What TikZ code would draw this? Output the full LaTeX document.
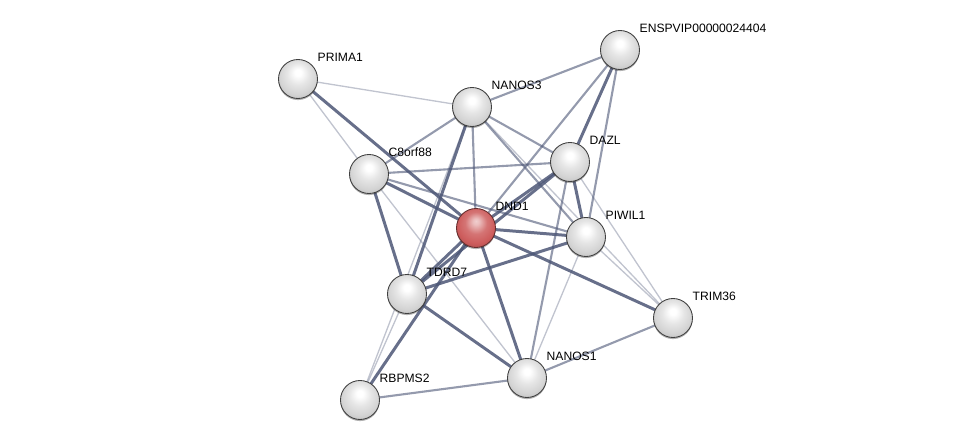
\documentclass[tikz,border=0pt]{standalone}
\usepackage{fontspec}
\setmainfont{Liberation Sans}
\usepackage{xcolor}
\usepackage{tikz}
\usetikzlibrary{backgrounds, shadows}

\definecolor{linkc}{RGB}{76,86,118}
\definecolor{dndred}{RGB}{205,92,92}
\pgfdeclareradialshading{greyball}{\pgfpoint{0bp}{9bp}}{%
  color(0bp)=(white); color(4bp)=(white); color(14bp)=(gray!20);
  color(24bp)=(gray!34); color(30bp)=(gray!46); color(36bp)=(gray!62); color(50bp)=(gray!62)}
\pgfdeclareradialshading{redball}{\pgfpoint{0bp}{9bp}}{%
  color(0bp)=(dndred!30!white); color(4bp)=(dndred!40!white); color(14bp)=(dndred!85!white);
  color(24bp)=(dndred); color(30bp)=(dndred!88!black); color(36bp)=(dndred!70!black); color(50bp)=(dndred!70!black)}

\begin{document}
\begin{tikzpicture}[
  x=0.02cm, y=-0.02cm,
  font=\fontsize{6.9}{8}\selectfont,
  prot/.style   = {circle, minimum size=0.78cm, inner sep=0pt,
                   shading=greyball, draw=gray!50!black, line width=0.5pt,
                   drop shadow={shadow xshift=0pt, shadow yshift=-0.9pt, opacity=0.3, fill=black}},
  hub/.style    = {prot, shading=redball, draw=dndred!50!black},
  lbl/.style    = {inner xsep=3pt, inner ysep=1.8pt, text=black},
  strong/.style = {draw=linkc, line width=1.7pt, draw opacity=0.85},
  mid/.style    = {draw=linkc, line width=1.2pt, draw opacity=0.6},
  weak/.style   = {draw=linkc, line width=0.75pt, draw opacity=0.35}
]
\useasboundingbox (0,0) rectangle (975,446);

\node[prot] (prima1)  at (298,79)  [label={[lbl]45:PRIMA1}] {};
\node[prot] (enspvip) at (620,50)  [label={[lbl]45:ENSPVIP00000024404}] {};
\node[prot] (nanos3)  at (472,107) [label={[lbl]45:NANOS3}] {};
\node[prot] (dazl)    at (570,162) [label={[lbl]45:DAZL}] {};
\node[prot] (c8orf88) at (369,174) [label={[lbl]45:C8orf88}] {};
\node[hub]  (dnd1)    at (476,228) [label={[lbl]45:DND1}] {};
\node[prot] (piwil1)  at (586,237) [label={[lbl]45:PIWIL1}] {};
\node[prot] (tdrd7)   at (407,294) [label={[lbl]45:TDRD7}] {};
\node[prot] (trim36)  at (673,318) [label={[lbl]45:TRIM36}] {};
\node[prot] (nanos1)  at (527,378) [label={[lbl]45:NANOS1}] {};
\node[prot] (rbpms2)  at (360,400) [label={[lbl]45:RBPMS2}] {};

\begin{scope}[on background layer]
\draw[weak]   (prima1.center)  -- (nanos3.center);
\draw[weak]   (prima1.center)  -- (c8orf88.center);
\draw[strong] (prima1.center)  -- (dnd1.center);
\draw[mid]    (enspvip.center) -- (nanos3.center);
\draw[strong] (enspvip.center) -- (dazl.center);
\draw[mid]    (enspvip.center) -- (piwil1.center);
\draw[mid]    (enspvip.center) -- (dnd1.center);
\draw[mid]    (nanos3.center)  -- (c8orf88.center);
\draw[mid]    (nanos3.center)  -- (dnd1.center);
\draw[mid]    (nanos3.center)  -- (dazl.center);
\draw[mid]    (nanos3.center)  -- (piwil1.center);
\draw[weak]   (nanos3.center)  -- (trim36.center);
\draw[strong] (nanos3.center)  -- (tdrd7.center);
\draw[weak]   (nanos3.center)  -- (rbpms2.center);
\draw[mid]    (c8orf88.center) -- (dazl.center);
\draw[strong] (c8orf88.center) -- (dnd1.center);
\draw[mid]    (c8orf88.center) -- (piwil1.center);
\draw[strong] (c8orf88.center) -- (tdrd7.center);
\draw[weak]   (c8orf88.center) -- (nanos1.center);
\draw[strong] (dazl.center)    -- (dnd1.center);
\draw[strong] (dazl.center)    -- (piwil1.center);
\draw[strong] (dazl.center)    -- (tdrd7.center);
\draw[mid]    (dazl.center)    -- (nanos1.center);
\draw[weak]   (dazl.center)    -- (trim36.center);
\draw[strong] (dnd1.center)    -- (piwil1.center);
\draw[strong] (dnd1.center)    -- (tdrd7.center);
\draw[strong] (dnd1.center)    -- (trim36.center);
\draw[strong] (dnd1.center)    -- (nanos1.center);
\draw[strong] (dnd1.center)    -- (rbpms2.center);
\draw[strong] (piwil1.center)  -- (tdrd7.center);
\draw[weak]   (piwil1.center)  -- (trim36.center);
\draw[weak]   (piwil1.center)  -- (nanos1.center);
\draw[strong] (tdrd7.center)   -- (nanos1.center);
\draw[weak]   (tdrd7.center)   -- (rbpms2.center);
\draw[mid]    (trim36.center)  -- (nanos1.center);
\draw[mid]    (nanos1.center)  -- (rbpms2.center);
\end{scope}
\end{tikzpicture}
\end{document}
